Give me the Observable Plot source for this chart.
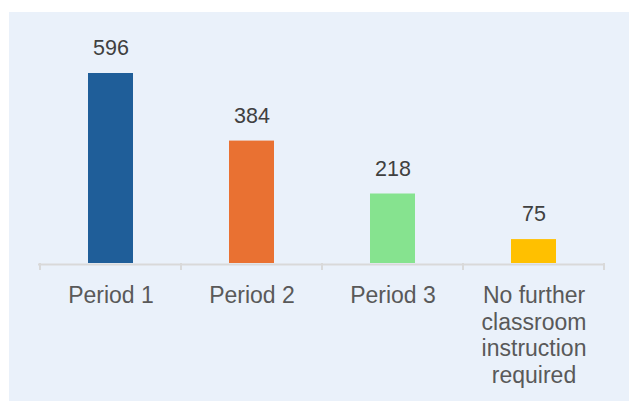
<!DOCTYPE html>
<html>
<head>
<meta charset="utf-8">
<script src="https://cdn.jsdelivr.net/npm/d3@7"></script>
<script src="https://cdn.jsdelivr.net/npm/@observablehq/plot@0.6"></script>
<style>
  html, body { margin: 0; padding: 0; background: #ffffff; }
  #chart { position: absolute; left: 9px; top: 12px; }
  #chart svg { display: block; background: #eaf1fa; }
</style>
</head>
<body>
<div id="chart"></div>
<script>
const categories = ["Period 1", "Period 2", "Period 3", "No further\nclassroom\ninstruction\nrequired"];
const values = [596, 384, 218, 75];
const colors = ["#1f5e99", "#e97132", "#86e38f", "#ffc000"];

const data = categories.map((c, i) => ({category: c, value: values[i]}));

function bandTicks(index, scales, vals, dimensions) {
  const x = scales.x;
  const y0 = scales.y(0);
  const bw = x.bandwidth();
  const step = x.step ? x.step() : bw / (1 - 0.6825);
  const edges = categories.map(c => x(c) - (step - bw) / 2);
  edges.push(x(categories[categories.length - 1]) + bw + (step - bw) / 2);
  const g = d3.create("svg:g");
  g.selectAll("line").data(edges).join("line")
    .attr("x1", d => d).attr("x2", d => d)
    .attr("y1", y0).attr("y2", y0 + 7)
    .attr("stroke", "#d9d9d9").attr("stroke-width", 2);
  return g.node();
}

const chart = Plot.plot({
  width: 620,
  height: 389,
  marginLeft: 29,
  marginRight: 24,
  marginTop: 61,
  marginBottom: 138,
  style: {fontFamily: "'Liberation Sans', Arial, sans-serif", background: "#eaf1fa"},
  x: {domain: categories, paddingInner: 0.6825, paddingOuter: 0.34125, align: 0.5, label: null},
  y: {domain: [0, 596], axis: null},
  color: {domain: categories, range: colors},
  marks: [
    Plot.barY(data, {x: "category", y: "value", fill: "category"}),
    Plot.ruleY([0], {stroke: "#d9d9d9", strokeWidth: 2, dy: 1}),
    bandTicks,
    Plot.text(data, {x: "category", y: "value", text: d => String(d.value), dy: -25, fontSize: 21.5, fill: "#404040"}),
    Plot.axisX({tickSize: 0, tickPadding: 20, fontSize: 23, lineHeight: 1.17, fill: "#595959", label: null})
  ]
});
document.getElementById("chart").appendChild(chart);
</script>
</body>
</html>
